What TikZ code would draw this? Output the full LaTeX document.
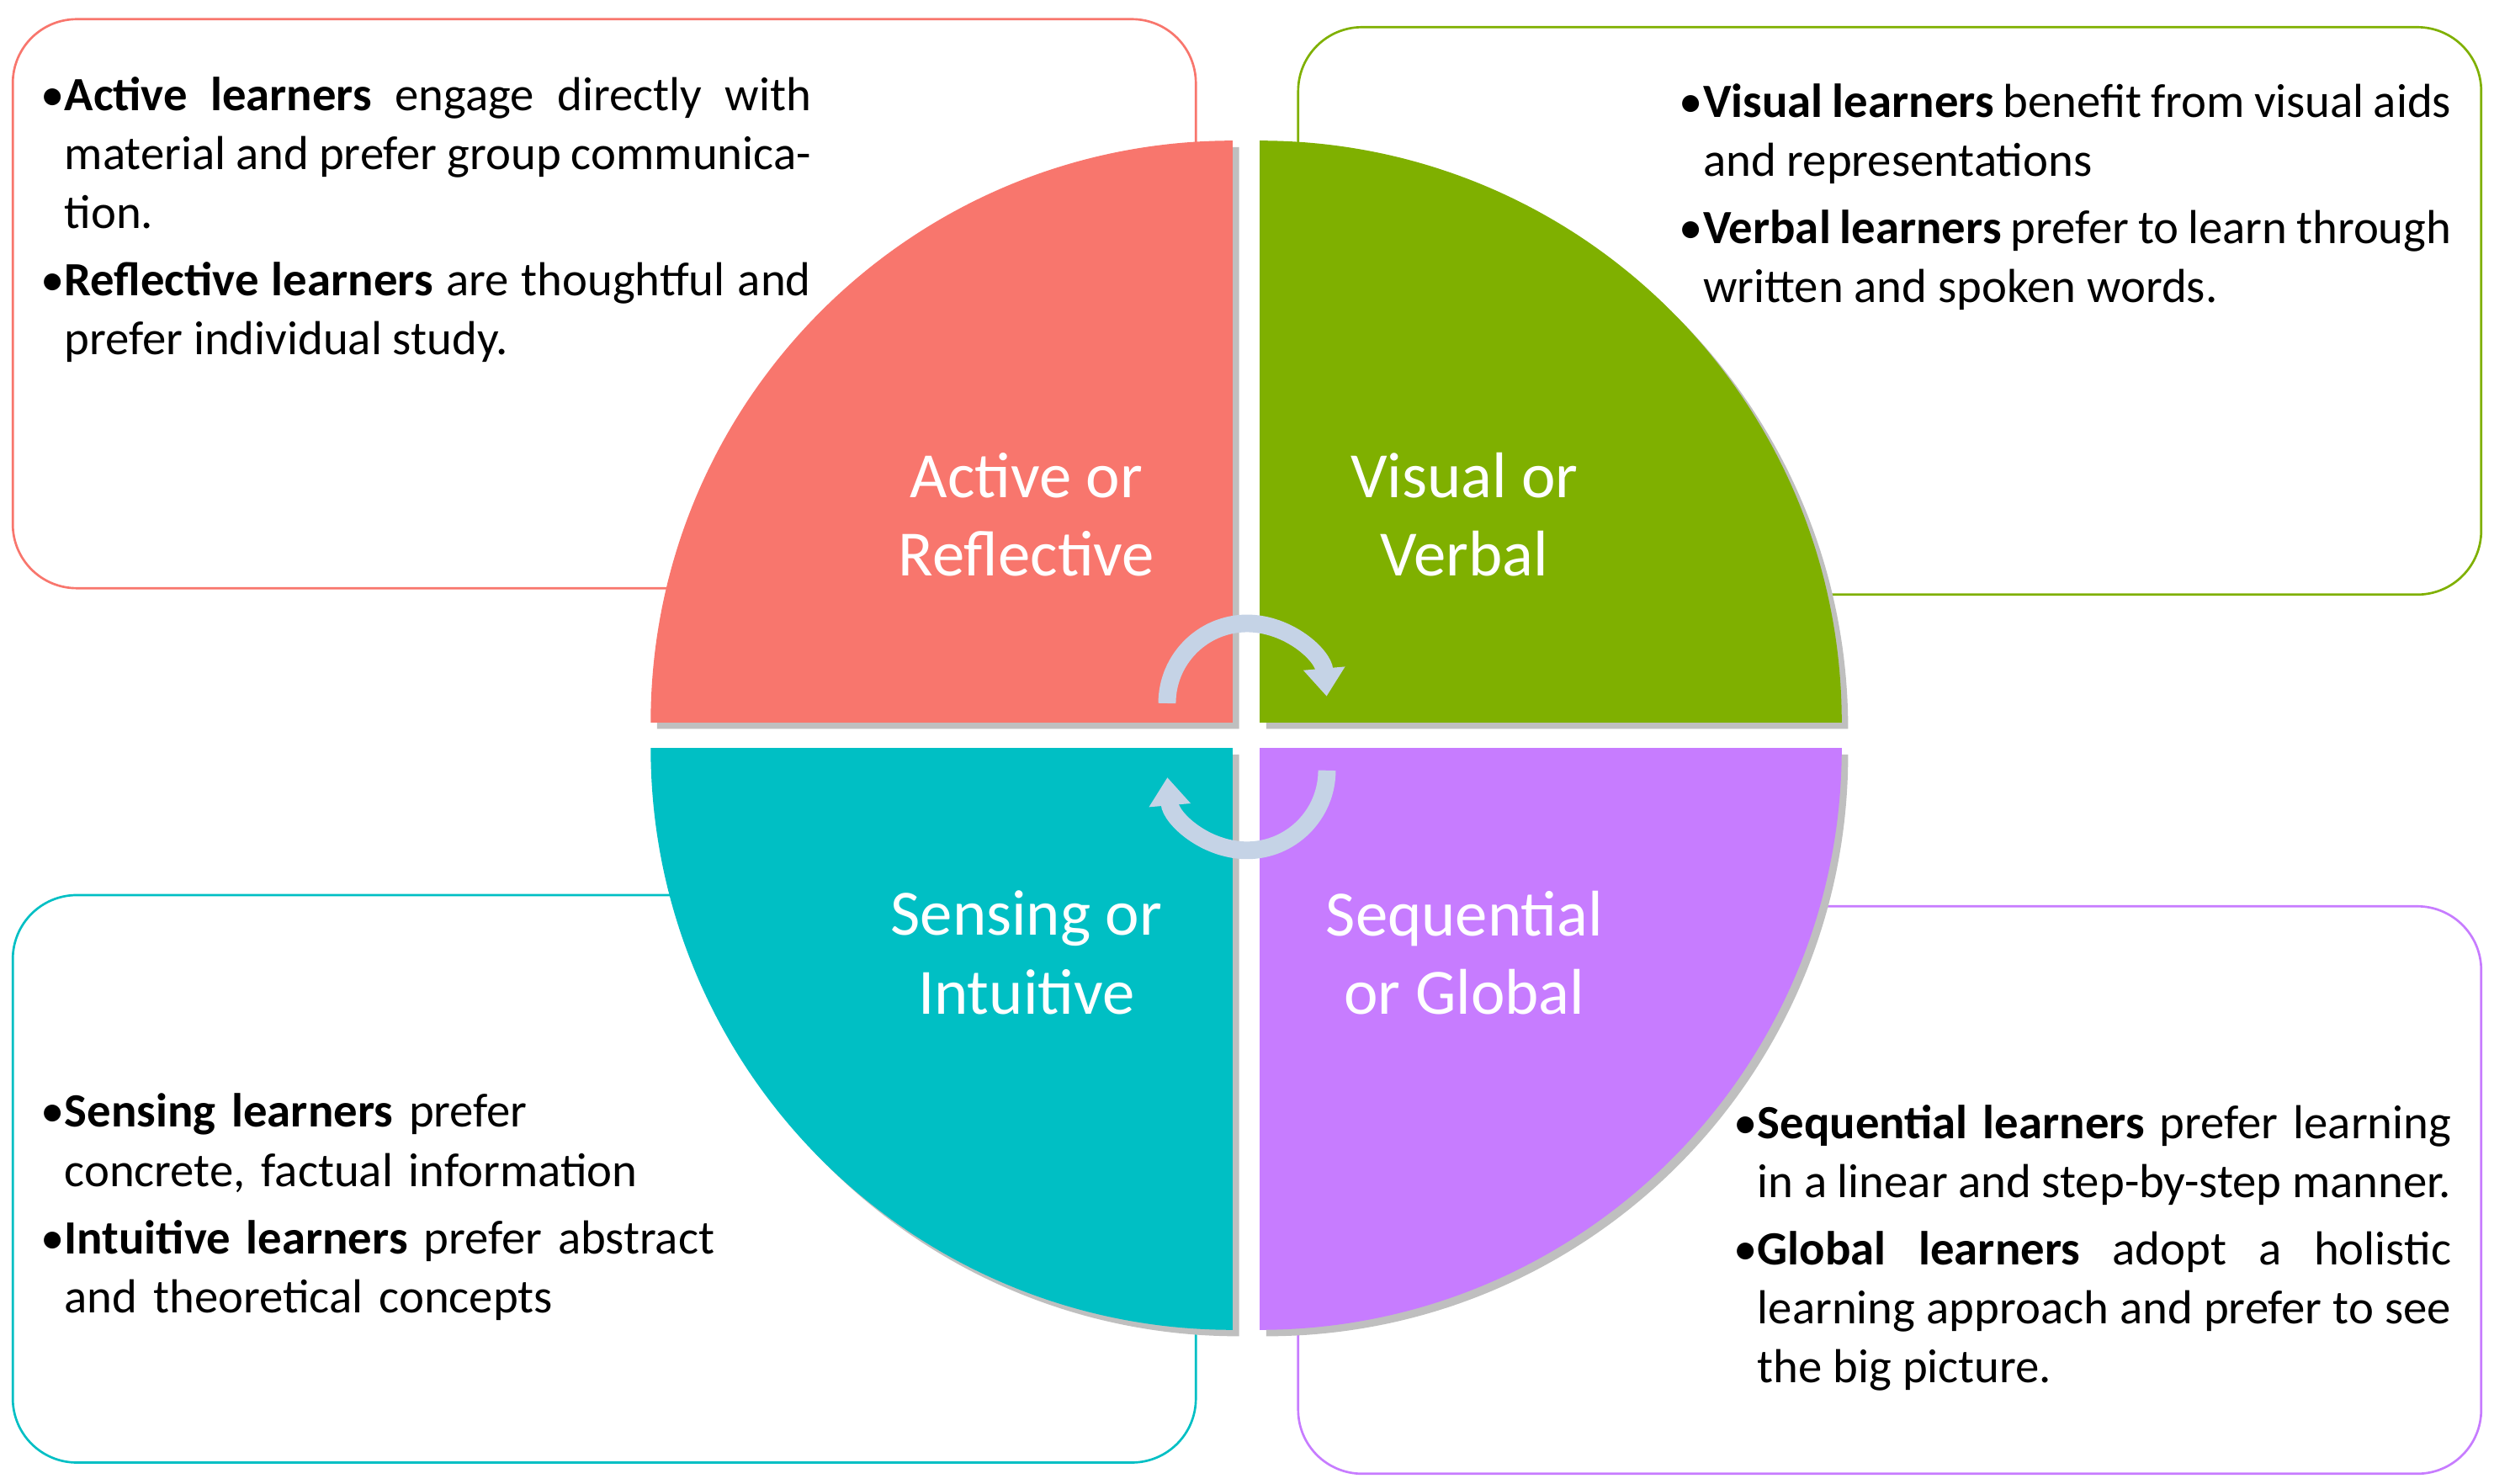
\documentclass[tikz,border=0pt]{standalone}
\usepackage{fontspec}
\setmainfont{Carlito}
\usetikzlibrary{arrows.meta}
\definecolor{cA}{HTML}{F8766D}
\definecolor{cB}{HTML}{7FB000}
\definecolor{cC}{HTML}{00BFC4}
\definecolor{cD}{HTML}{C77CFF}
\definecolor{arr}{HTML}{C5D3E6}
\newcommand{\itm}[1]{\par\noindent\llap{\textbullet}#1\par\vspace{3pt}}
\begin{document}
\begin{tikzpicture}[x=0.02cm,y=-0.02cm,
  box/.style={rounded corners=0.8cm,line width=0.8pt},
  txt/.style={anchor=north west,inner sep=0pt,font=\fontsize{17}{21}\selectfont,align=justify},
  lab/.style={text=white,align=center,font=\fontsize{23}{28}\selectfont},
  quad/.style={draw=white,line width=0.5pt},
  shad/.style={fill=black!25},
  carr/.style={line width=0.22cm,draw=arr,-{Triangle[length=0.35cm,width=0.5cm]}}]
\useasboundingbox (0,0) rectangle (1560,928);
\draw[box,cA] (8,12) rectangle (748,368);
\draw[box,cB] (812,17) rectangle (1552,372);
\draw[box,cC] (8,560) rectangle (748,915);
\draw[box,cD] (812,567) rectangle (1552,922);
% shadows
\fill[shad] (775,456) -- ++(-364,0) arc[start angle=180,end angle=270,radius=364] -- cycle;
\fill[shad] (792,456) -- ++(0,-364) arc[start angle=270,end angle=360,radius=364] -- cycle;
\fill[shad] (775,472) -- ++(-364,0) arc[start angle=180,end angle=90,radius=364] -- cycle;
\fill[shad] (792,472) -- ++(364,0) arc[start angle=0,end angle=90,radius=364] -- cycle;
\fill[cA] (771,452) -- ++(-364,0) arc[start angle=180,end angle=270,radius=364] -- cycle;
\fill[cB] (788,452) -- ++(0,-364) arc[start angle=270,end angle=360,radius=364] -- cycle;
\fill[cC] (771,468) -- ++(-364,0) arc[start angle=180,end angle=90,radius=364] -- cycle;
\fill[cD] (788,468) -- ++(364,0) arc[start angle=0,end angle=90,radius=364] -- cycle;
\node[lab] (la) at (642,322) {Active or\\Reflective};
\node[lab] (lb) at (916,322) {Visual or\\Verbal};
\node[lab] (lc) at (642,596) {Sensing or\\Intuitive};
\node[lab] (ld) at (916,596) {Sequential\\or Global};
\draw[carr] (730,440) arc[start angle=180,end angle=355,radius=50];
\draw[carr] (830,482) arc[start angle=0,end angle=175,radius=50];
\node[txt,text width=9.34cm] (ta) at (40,32) {\itm{\textbf{Active learners} engage directly with material and prefer group communication.}\itm{\textbf{Reflective learners} are thoughtful and prefer individual study.}};
\node[txt,text width=9.36cm] (tb) at (1065,36) {\itm{\textbf{Visual learners} benefit from visual aids and representations}\itm{\textbf{Verbal learners} prefer to learn through written and spoken words.}};
\node[txt,text width=9.3cm,align=left] (tc) at (40,668) {\itm{\textbf{Sensing learners} prefer\\concrete, factual information}\itm{\textbf{Intuitive learners} prefer abstract\\and theoretical concepts}};
\node[txt,text width=8.68cm] (td) at (1099,675) {\itm{\textbf{Sequential learners} prefer learning in a linear and step-by-step manner.}\itm{\textbf{Global learners} adopt a holistic learning approach and prefer to see the big picture.}};
\end{tikzpicture}
\end{document}
